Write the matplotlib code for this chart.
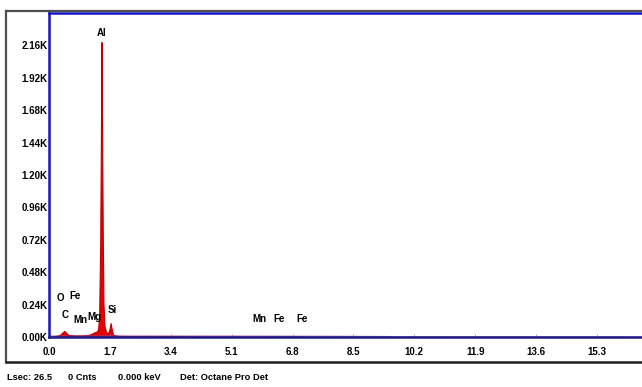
import matplotlib
matplotlib.use("Agg")
import matplotlib.pyplot as plt
from matplotlib.lines import Line2D

# EDS spectrum outline: energy (keV) and counts
energy = [0.00, 0.15, 0.30, 0.38, 0.43, 0.48, 0.55, 0.70, 0.90, 1.10, 1.20, 1.27,
          1.33, 1.37, 1.40, 1.43, 1.45, 1.465, 1.48, 1.50, 1.52, 1.55, 1.59, 1.65,
          1.69, 1.72, 1.75, 1.79, 1.95, 2.5, 4.0, 6.0, 8.0, 10.0, 17.0]
counts = [0, 5, 15, 35, 45, 30, 15, 12, 12, 15, 25, 35,
          40, 55, 150, 700, 1500, 2185, 1600, 800, 250, 80, 40, 25,
          60, 103, 60, 15, 8, 6, 5, 4, 3, 2, 1]

# element labels: text, energy, counts
peak_names = ["Al", "O", "Fe", "C", "Mn", "Mg", "Si", "Mn", "Fe", "Fe"]
peak_x = [1.48, 0.33, 0.72, 0.45, 0.88, 1.28, 1.78, 5.88, 6.43, 7.07]
peak_y = [2215, 255, 270, 125, 90, 110, 165, 100, 100, 100]

x_ticks = [0.0, 1.7, 3.4, 5.1, 6.8, 8.5, 10.2, 11.9, 13.6, 15.3]
y_ticks = [0, 240, 480, 720, 960, 1200, 1440, 1680, 1920, 2160]
y_tick_labels = ["0.00K", "0.24K", "0.48K", "0.72K", "0.96K", "1.20K",
                 "1.44K", "1.68K", "1.92K", "2.16K"]

footer = [("Lsec: 26.5", 7), ("0 Cnts", 68), ("0.000 keV", 118), ("Det: Octane Pro Det", 180)]

FONT = ["Liberation Sans Narrow", "Liberation Sans", "DejaVu Sans"]
plt.rcParams["font.family"] = FONT

W, H = 642, 387
fig = plt.figure(figsize=(W / 100, H / 100), dpi=100)

x0, xmax, ymax = 49, 17.0, 2400
px_per_kev = (597 - 49) / 15.3
right_px = x0 + xmax * px_per_kev
ax = fig.add_axes([x0 / W, (H - 337) / H, (right_px - x0) / W, (337 - 13) / H])

ax.fill_between(energy, counts, 0, color="#e60000", lw=0.8, edgecolor="#c00000")
# faint continuum along the baseline
bg_x = [0.0, 2.0, 4.0, 6.0, 8.0, 9.5]
bg_y = [8, 10, 8, 7, 5, 2]
ax.plot(bg_x, bg_y, color="#a040a0", lw=1.2, alpha=0.45)

ax.set_xlim(0, xmax)
ax.set_ylim(0, ymax)
ax.set_xticks(x_ticks)
ax.set_xticklabels([f"{v:.1f}" for v in x_ticks])
ax.set_yticks(y_ticks)
ax.set_yticklabels(y_tick_labels)
ax.tick_params(axis="x", length=2, width=0.5, color="#9090c0", direction="in", pad=7)
ax.tick_params(axis="y", length=0, pad=1)
for lab in ax.get_xticklabels() + ax.get_yticklabels():
    lab.set_fontsize(7)
    lab.set_fontweight("bold")
    lab.set_color("black")

for side in ["left", "top", "right"]:
    ax.spines[side].set_color("#1414c8")
    ax.spines[side].set_linewidth(1.8)
ax.spines["bottom"].set_color("#1a1a8a")
ax.spines["bottom"].set_linewidth(1.8)

for name, px, py in zip(peak_names, peak_x, peak_y):
    ax.text(px, py, name, fontsize=7, fontweight="bold", ha="center", va="bottom",
            color="black")

# outer frame
def fx(p):
    return p / W

def fy(p):
    return (H - p) / H

fig.add_artist(Line2D([fx(6), fx(660)], [fy(11), fy(11)], color="#505050", lw=1.6))
fig.add_artist(Line2D([fx(6), fx(6)], [fy(11), fy(362)], color="#505050", lw=1.6))
fig.add_artist(Line2D([fx(6), fx(660)], [fy(362), fy(362)], color="#202020", lw=1.8))

for text, px in footer:
    fig.text(fx(px), fy(378), text, fontsize=6.7, fontweight="bold", ha="left",
             va="center", color="black")

fig.savefig("out.png", dpi=100)
